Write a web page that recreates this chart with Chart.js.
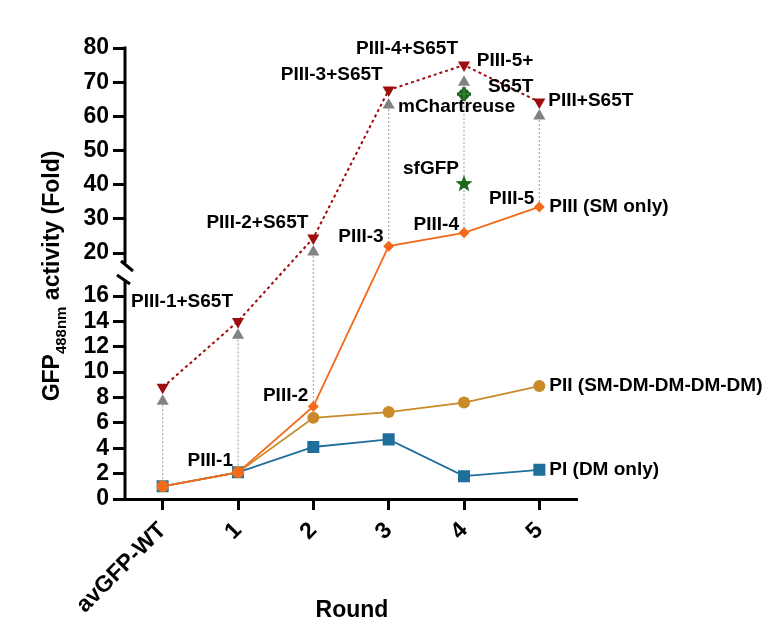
<!DOCTYPE html>
<html>
<head>
<meta charset="utf-8">
<script src="https://cdn.jsdelivr.net/npm/chart.js@4.4.0/dist/chart.umd.min.js"></script>
<style>
  html, body { margin: 0; padding: 0; background: #fff; }
  #wrap { width: 782px; height: 624px; }
</style>
</head>
<body>
<div id="wrap"><canvas id="chart" width="782" height="624"></canvas></div>
<script>
// Rounds on the x axis
const rounds = ['avGFP-WT', '1', '2', '3', '4', '5'];

// GFP488nm activity (fold) per series
const piDmOnly = [1.0, 2.1, 4.1, 4.7, 1.8, 2.3];
const piiMixed = [1.0, 2.1, 6.4, 6.85, 7.6, 8.9];
const piiiSmOnly = [1.0, 2.1, 7.3, 22.0, 25.9, 33.5];
const piiiS65T = [8.8, 14.0, 24.4, 67.7, 75.0, 64.2];
const greyMarks = [7.7, 12.9, 20.3, 63.3, 70.0, 60.1];
const mChartreuse = [null, null, null, null, 66.5, null];
const sfGFP = [null, null, null, null, 40.2, null];

// Broken y axis: lower and upper tick sets
const lowTicks = [0, 2, 4, 6, 8, 10, 12, 14, 16];
const highTicks = [20, 30, 40, 50, 60, 70, 80];

const FONT = "'Liberation Sans', Arial, sans-serif";
const LOW_PART = 203 / 451;   // share of plot height used by 0-16
const HIGH_PART = 205 / 451;  // share of plot height used by 20-80

// Linear scale with a gap between the two tick ranges
class BrokenLinearScale extends Chart.LinearScale {
    static id = 'brokenLinear';
    static defaults = {};

    buildTicks() {
        this.min = lowTicks[0];
        this.max = highTicks[highTicks.length - 1];
        return lowTicks.concat(highTicks).map(v => ({ value: v }));
    }

    _edges() {
        const h = this.bottom - this.top;
        return {
            lowTop: this.bottom - h * LOW_PART,
            highBottom: this.top + h * HIGH_PART,
            lowMax: lowTicks[lowTicks.length - 1],
            highMin: highTicks[0],
            highMax: highTicks[highTicks.length - 1],
        };
    }

    getPixelForValue(v) {
        const e = this._edges();
        if (v <= e.lowMax) return this.bottom - (v / e.lowMax) * (this.bottom - e.lowTop);
        if (v >= e.highMin) return e.highBottom - ((v - e.highMin) / (e.highMax - e.highMin)) * (e.highBottom - this.top);
        return e.lowTop - ((v - e.lowMax) / (e.highMin - e.lowMax)) * (e.lowTop - e.highBottom);
    }

    getValueForPixel(p) {
        const e = this._edges();
        if (p >= e.lowTop) return (this.bottom - p) / (this.bottom - e.lowTop) * e.lowMax;
        if (p <= e.highBottom) return e.highMin + (e.highBottom - p) / (e.highBottom - this.top) * (e.highMax - e.highMin);
        return e.lowMax + (e.lowTop - p) / (e.lowTop - e.highBottom) * (e.highMin - e.lowMax);
    }
}
Chart.register(BrokenLinearScale);

// Filled five point star for sfGFP
const makeStar = (outer, inner, color) => {
    const c = document.createElement('canvas');
    c.width = c.height = outer * 2 + 2;
    const g = c.getContext('2d');
    g.translate(c.width / 2, c.height / 2);
    g.beginPath();
    for (let k = 0; k < 10; k++) {
        const r = k % 2 === 0 ? outer : inner;
        const a = -Math.PI / 2 + k * Math.PI / 5;
        g.lineTo(Math.cos(a) * r, Math.sin(a) * r);
    }
    g.closePath();
    g.fillStyle = color;
    g.fill();
    return c;
};

// Circle with a plus for mChartreuse
const makeCrossCircle = (r, color) => {
    const c = document.createElement('canvas');
    c.width = c.height = r * 2 + 4;
    const g = c.getContext('2d');
    g.translate(c.width / 2, c.height / 2);
    g.fillStyle = color;
    g.beginPath();
    g.arc(0, 0, r - 1.5, 0, Math.PI * 2);
    g.fill();
    g.fillRect(-1.8, -r, 3.6, r * 2);
    g.fillRect(-r, -1.8, r * 2, 3.6);
    g.fillStyle = '#2f8a2f';
    g.fillRect(-0.8, -r + 2, 1.6, r * 2 - 4);
    g.fillRect(-r + 2, -0.8, r * 2 - 4, 1.6);
    return c;
};

// Text put next to points: [text, series, index, dx, dy, align]
const pointNotes = [
    ['PIII-1+S65T', piiiS65T, 1, -5, -20, 'right'],
    ['PIII-2+S65T', piiiS65T, 2, -5, -15, 'right'],
    ['PIII-3+S65T', piiiS65T, 3, -6, -15, 'right'],
    ['PIII-4+S65T', piiiS65T, 4, -6, -16, 'right'],
    ['PIII-5+', piiiS65T, 5, -6, -41, 'right'],
    ['S65T', piiiS65T, 5, -6, -15, 'right'],
    ['PIII+S65T', piiiS65T, 5, 9, -1, 'left'],
    ['mChartreuse', mChartreuse, 4, -66, 13, 'left'],
    ['sfGFP', sfGFP, 4, -5, -15, 'right'],
    ['PIII-1', piiiSmOnly, 1, -5, -12, 'right'],
    ['PIII-2', piiiSmOnly, 2, -5, -11, 'right'],
    ['PIII-3', piiiSmOnly, 3, -5, -9, 'right'],
    ['PIII-4', piiiSmOnly, 4, -5, -8, 'right'],
    ['PIII-5', piiiSmOnly, 5, -5, -8, 'right'],
    ['PIII (SM only)', piiiSmOnly, 5, 10, 0, 'left'],
    ['PII (SM-DM-DM-DM-DM)', piiMixed, 5, 10, 0, 'left'],
    ['PI (DM only)', piDmOnly, 5, 10, 0, 'left'],
];

// Grey dotted drop lines from the grey triangles down to PIII
const dropLines = {
    id: 'dropLines',
    beforeDatasetsDraw(chart) {
        const { ctx, scales: { x, y } } = chart;
        ctx.save();
        ctx.strokeStyle = '#9a9a9a';
        ctx.lineWidth = 1;
        ctx.setLineDash([2, 2]);
        greyMarks.forEach((v, i) => {
            const px = x.getPixelForValue(i);
            ctx.beginPath();
            ctx.moveTo(px, y.getPixelForValue(v));
            ctx.lineTo(px, y.getPixelForValue(piiiSmOnly[i]));
            ctx.stroke();
        });
        ctx.restore();
    }
};

// Y axis line with the break marks
const brokenAxis = {
    id: 'brokenAxis',
    afterDraw(chart) {
        const { ctx, chartArea, scales: { y } } = chart;
        const L = chartArea.left;
        const upperEnd = y.getPixelForValue(highTicks[0]) + 10;
        const lowerStart = y.getPixelForValue(lowTicks[lowTicks.length - 1]) - 15;
        ctx.save();
        ctx.strokeStyle = '#000';
        ctx.lineWidth = 3;
        ctx.beginPath();
        ctx.moveTo(L, y.getPixelForValue(highTicks[highTicks.length - 1]) - 1.5);
        ctx.lineTo(L, upperEnd);
        ctx.moveTo(L, lowerStart);
        ctx.lineTo(L, chartArea.bottom + 1.5);
        ctx.moveTo(L - 4, upperEnd - 2);
        ctx.lineTo(L + 8, upperEnd + 8);
        ctx.moveTo(L - 8, lowerStart - 6);
        ctx.lineTo(L + 5, lowerStart + 3);
        ctx.stroke();
        ctx.restore();
    }
};

// Axis titles and point labels
const texts = {
    id: 'texts',
    afterDraw(chart) {
        const { ctx, scales: { x, y } } = chart;
        ctx.save();
        ctx.fillStyle = '#000';

        // y title with subscript
        const main = `bold 23px ${FONT}`;
        const sub = `bold 15px ${FONT}`;
        ctx.font = main;
        const w1 = ctx.measureText('GFP').width;
        const w3 = ctx.measureText(' activity (Fold)').width;
        ctx.font = sub;
        const w2 = ctx.measureText('488nm').width;
        ctx.translate(59, 276);
        ctx.rotate(-Math.PI / 2);
        ctx.textBaseline = 'alphabetic';
        ctx.textAlign = 'left';
        let pos = -(w1 + w2 + w3) / 2;
        ctx.font = main;
        ctx.fillText('GFP', pos, 0);
        pos += w1;
        ctx.font = sub;
        ctx.fillText('488nm', pos, 7);
        pos += w2;
        ctx.font = main;
        ctx.fillText(' activity (Fold)', pos, 0);
        ctx.setTransform(1, 0, 0, 1, 0, 0);

        // x title
        ctx.textAlign = 'center';
        ctx.textBaseline = 'middle';
        ctx.fillText('Round', 352, 611);

        // point labels
        ctx.font = `bold 19px ${FONT}`;
        pointNotes.forEach(([text, series, i, dx, dy, align]) => {
            ctx.textAlign = align;
            ctx.fillText(text, x.getPixelForValue(i) + dx, y.getPixelForValue(series[i]) + dy);
        });
        ctx.restore();
    }
};

const tickFont = { family: FONT, size: 23, weight: 'bold' };

new Chart(document.getElementById('chart').getContext('2d'), {
    type: 'line',
    data: {
        labels: rounds,
        datasets: [
            {
                label: 'PIII+S65T',
                data: piiiS65T,
                borderColor: '#9c0d0d',
                backgroundColor: '#9c0d0d',
                borderWidth: 2,
                borderDash: [3, 3],
                pointStyle: 'triangle',
                pointRotation: 180,
                pointRadius: 7,
                pointBorderWidth: 0,
            },
            {
                label: 'grey',
                data: greyMarks,
                showLine: false,
                backgroundColor: '#828282',
                borderColor: '#828282',
                pointStyle: 'triangle',
                pointRadius: 7,
                pointBorderWidth: 0,
            },
            {
                label: 'mChartreuse',
                data: mChartreuse,
                showLine: false,
                pointStyle: makeCrossCircle(7, '#1c621c'),
                pointRadius: 7,
            },
            {
                label: 'sfGFP',
                data: sfGFP,
                showLine: false,
                pointStyle: makeStar(9, 3.8, '#1d6a1d'),
                pointRadius: 9,
            },
            {
                label: 'PIII (SM only)',
                data: piiiSmOnly,
                borderColor: '#f26a1b',
                backgroundColor: '#f26a1b',
                borderWidth: 1.8,
                pointStyle: ['circle', 'circle', 'rectRot', 'rectRot', 'rectRot', 'rectRot'],
                pointRadius: [5.5, 5.5, 5.5, 5.5, 5.5, 5.5],
                pointBorderWidth: 0,
            },
            {
                label: 'PII (SM-DM-DM-DM-DM)',
                data: piiMixed,
                borderColor: '#c98a29',
                backgroundColor: '#c98a29',
                borderWidth: 1.8,
                pointStyle: 'circle',
                pointRadius: 6,
                pointBorderWidth: 0,
            },
            {
                label: 'PI (DM only)',
                data: piDmOnly,
                borderColor: '#1f6e9c',
                backgroundColor: '#1f6e9c',
                borderWidth: 1.8,
                pointStyle: 'rect',
                pointRadius: 8.5,
                pointBorderWidth: 0,
            },
        ],
    },
    options: {
        responsive: false,
        animation: false,
        events: [],
        layout: { padding: { top: 48, right: 205, bottom: 0, left: 0 } },
        plugins: {
            legend: { display: false },
            tooltip: { enabled: false },
        },
        scales: {
            x: {
                type: 'category',
                offset: true,
                grid: {
                    display: true,
                    offset: false,
                    drawOnChartArea: false,
                    drawTicks: true,
                    tickLength: 11,
                    tickWidth: 3,
                    tickColor: '#000',
                },
                border: { display: true, width: 3, color: '#000' },
                ticks: {
                    color: '#000',
                    font: tickFont,
                    minRotation: 45,
                    maxRotation: 45,
                    autoSkip: false,
                    padding: 7,
                },
                afterFit: s => { s.height = 125; },
            },
            y: {
                type: 'brokenLinear',
                min: 0,
                max: 80,
                grid: {
                    display: true,
                    drawOnChartArea: false,
                    drawTicks: true,
                    tickLength: 12,
                    tickWidth: 3,
                    tickColor: '#000',
                },
                border: { display: false },
                ticks: {
                    color: '#000',
                    font: tickFont,
                    autoSkip: false,
                    padding: 4,
                    callback: v => String(v),
                },
                afterFit: s => { s.width = 125; },
            },
        },
    },
    plugins: [dropLines, brokenAxis, texts],
});
</script>
</body>
</html>
